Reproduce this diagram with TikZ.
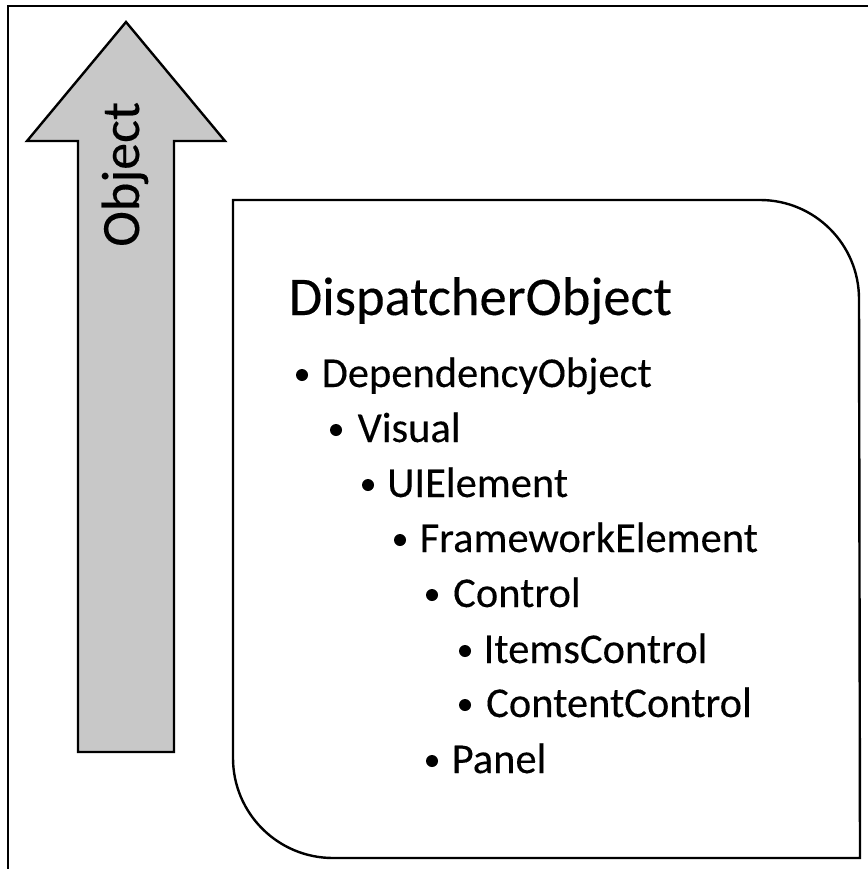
\documentclass[tikz,border=0pt]{standalone}
\usepackage{fontspec}
\setmainfont{Carlito}[FakeBold=0.2]
\definecolor{arrowgray}{RGB}{200,200,200}
\tikzset{
  frameline/.style={line width=2pt, black},
  shapeline/.style={line width=2.4pt, black, line join=miter},
  head/.style={font=\fontsize{54.5}{60}\selectfont, inner sep=0pt, anchor=base west},
  item/.style={font=\fontsize{42.5}{48}\selectfont, inner sep=0pt, anchor=base west},
  bulletdot/.style={circle, fill=black, inner sep=0pt, minimum size=12pt}
}
\begin{document}
\begin{tikzpicture}[x=1pt, y=-1pt]
\useasboundingbox (0,0) rectangle (867,869);
% outer frame
\draw[frameline] (8,880) -- (8,6) -- (880,6);
% arrow
\draw[shapeline, fill=arrowgray] (126,22) -- (225,141) -- (174,141) -- (174,752) -- (78,752) -- (78,141) -- (27,141) -- cycle;
\node[font=\fontsize{54}{60}\selectfont, inner sep=0pt, anchor=base west, rotate=90] (obj) at (139,247) {Object};
% rounded box
\draw[shapeline] (233,200) -- (760,200) arc[start angle=90, end angle=0, radius=99pt] -- (860,858) -- (333,858) arc[start angle=270, end angle=180, radius=100pt] -- cycle;
% title
\node[head] (dispatcher) at (288.5,315) {DispatcherObject};
% items
\node[bulletdot] (b1) at (302,375) {};
\node[item] (dep) at (321.5,387) {DependencyObject};
\node[bulletdot] (b2) at (336,430) {};
\node[item] (vis) at (357.5,442) {Visual};
\node[bulletdot] (b3) at (368,485) {};
\node[item] (uie) at (387,497) {UIElement};
\node[bulletdot] (b4) at (400,540) {};
\node[item] (fwe) at (419.5,552) {FrameworkElement};
\node[bulletdot] (b5) at (432,595) {};
\node[item] (ctl) at (453,607) {Control};
\node[bulletdot] (b6) at (465,651) {};
\node[item] (itc) at (483.5,663) {ItemsControl};
\node[bulletdot] (b7) at (465,705) {};
\node[item] (cnc) at (486,717) {ContentControl};
\node[bulletdot] (b8) at (432,761) {};
\node[item] (pnl) at (451.5,773) {Panel};
\end{tikzpicture}
\end{document}
